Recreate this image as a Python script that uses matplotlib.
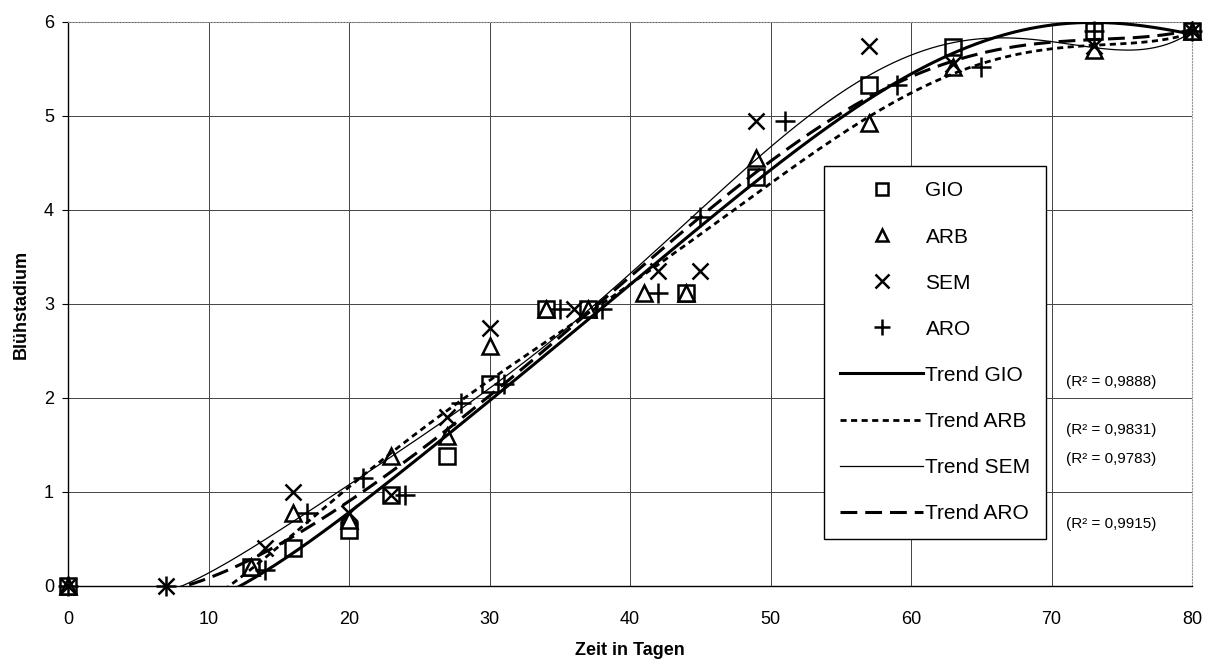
import numpy as np
import matplotlib.pyplot as plt
from matplotlib.lines import Line2D

plt.rcParams['font.family'] = ['Liberation Sans', 'DejaVu Sans']

# Beobachtungen (Tage, Blühstadium)
gio_x = [0, 13, 16, 20, 23, 27, 30, 34, 37, 44, 49, 57, 63, 73, 80]
gio_y = [0, 0.2, 0.4, 0.6, 0.97, 1.38, 2.15, 2.95, 2.95, 3.12, 4.35, 5.33, 5.73, 5.9, 5.9]
arb_x = [0, 13, 16, 20, 23, 27, 30, 34, 37, 41, 44, 49, 57, 63, 73, 80]
arb_y = [0, 0.2, 0.78, 0.7, 1.38, 1.6, 2.55, 2.95, 2.95, 3.12, 3.12, 4.55, 4.93, 5.52, 5.7, 5.9]
sem_x = [0, 7, 14, 16, 20, 23, 27, 30, 36, 42, 45, 49, 57, 63, 73, 80]
sem_y = [0, 0, 0.4, 1.0, 0.78, 0.97, 1.8, 2.75, 2.95, 3.35, 3.35, 4.95, 5.75, 5.55, 5.75, 5.9]
aro_x = [0, 7, 14, 17, 21, 24, 28, 31, 35, 38, 42, 45, 51, 59, 65, 73, 80]
aro_y = [0, 0, 0.17, 0.78, 1.15, 0.97, 1.95, 2.15, 2.95, 2.95, 3.12, 3.93, 4.95, 5.33, 5.52, 5.9, 5.9]

names = ["GIO", "ARB", "SEM", "ARO"]
r2_labels = ["0,9888", "0,9831", "0,9783", "0,9915"]

markers = {"GIO": dict(marker='s', ms=11, mfc='white'),
           "ARB": dict(marker='^', ms=11, mfc='white'),
           "SEM": dict(marker='x', ms=12),
           "ARO": dict(marker='+', ms=14)}
trend_style = {"GIO": dict(lw=2.2, ls='-'),
               "ARB": dict(lw=2.0, ls=(0, (2.2, 1.6))),
               "SEM": dict(lw=0.9, ls='-'),
               "ARO": dict(lw=2.2, ls=(0, (5.5, 2.6)))}

data = {"GIO": (gio_x, gio_y), "ARB": (arb_x, arb_y),
        "SEM": (sem_x, sem_y), "ARO": (aro_x, aro_y)}

fig = plt.figure(figsize=(12.06, 6.7), dpi=100)
ax = fig.add_axes([68 / 1206, 84 / 670, 1124 / 1206, 564 / 670])

xx = np.linspace(0, 80, 600)
handles_m = []
handles_t = []
for n in names:
    x, y = data[n]
    ax.plot(x, y, ls='none', color='black', mec='black', mew=1.8,
            clip_on=False, zorder=3, **markers[n])
    p = np.polyfit(x, y, 6)  # Polynom 6. Ordnung wie Excel-Trendlinie
    ax.plot(xx, np.polyval(p, xx), color='black', zorder=4, **trend_style[n])
    handles_m.append(Line2D([], [], ls='none', color='black', mec='black',
                            mew=1.8, **dict(markers[n], ms=markers[n]['ms'] - 2)))
    handles_t.append(Line2D([], [], color='black', **trend_style[n]))

ax.set_xlim(0, 80)
ax.set_ylim(0, 6)
ax.set_xticks(range(0, 81, 10))
ax.set_yticks(range(0, 7))
ax.grid(True, color='#444444', lw=0.7)
ax.set_axisbelow(True)
ax.tick_params(axis='x', length=0, pad=18, labelsize=13)
ax.tick_params(axis='y', length=4, pad=6, labelsize=13)
for s in ['top', 'right']:
    ax.spines[s].set_color('#999999')
    ax.spines[s].set_linestyle(':')
for s in ['left', 'bottom']:
    ax.spines[s].set_linewidth(1.0)

ax.set_xlabel("Zeit in Tagen", fontsize=13, fontweight='bold', labelpad=10)
ax.set_ylabel("Blühstadium", fontsize=13, fontweight='bold', labelpad=10)

leg = ax.legend(handles_m + handles_t, names + ["Trend " + n for n in names],
                loc='upper left', bbox_to_anchor=(0.673, 0.745),
                borderaxespad=0, fontsize=15, handlelength=4.0,
                handletextpad=0.1, labelspacing=1.3, borderpad=0.75,
                fancybox=False, framealpha=1, edgecolor='black')
leg.get_frame().set_linewidth(1.0)

# Bestimmtheitsmaße rechts neben der Legende
r2_y = [0.362, 0.277, 0.225, 0.11]
for r, yy in zip(r2_labels, r2_y):
    ax.text(0.888, yy, f"(R² = {r})", transform=ax.transAxes,
            fontsize=11, va='center', ha='left')

fig.savefig("out.png")
